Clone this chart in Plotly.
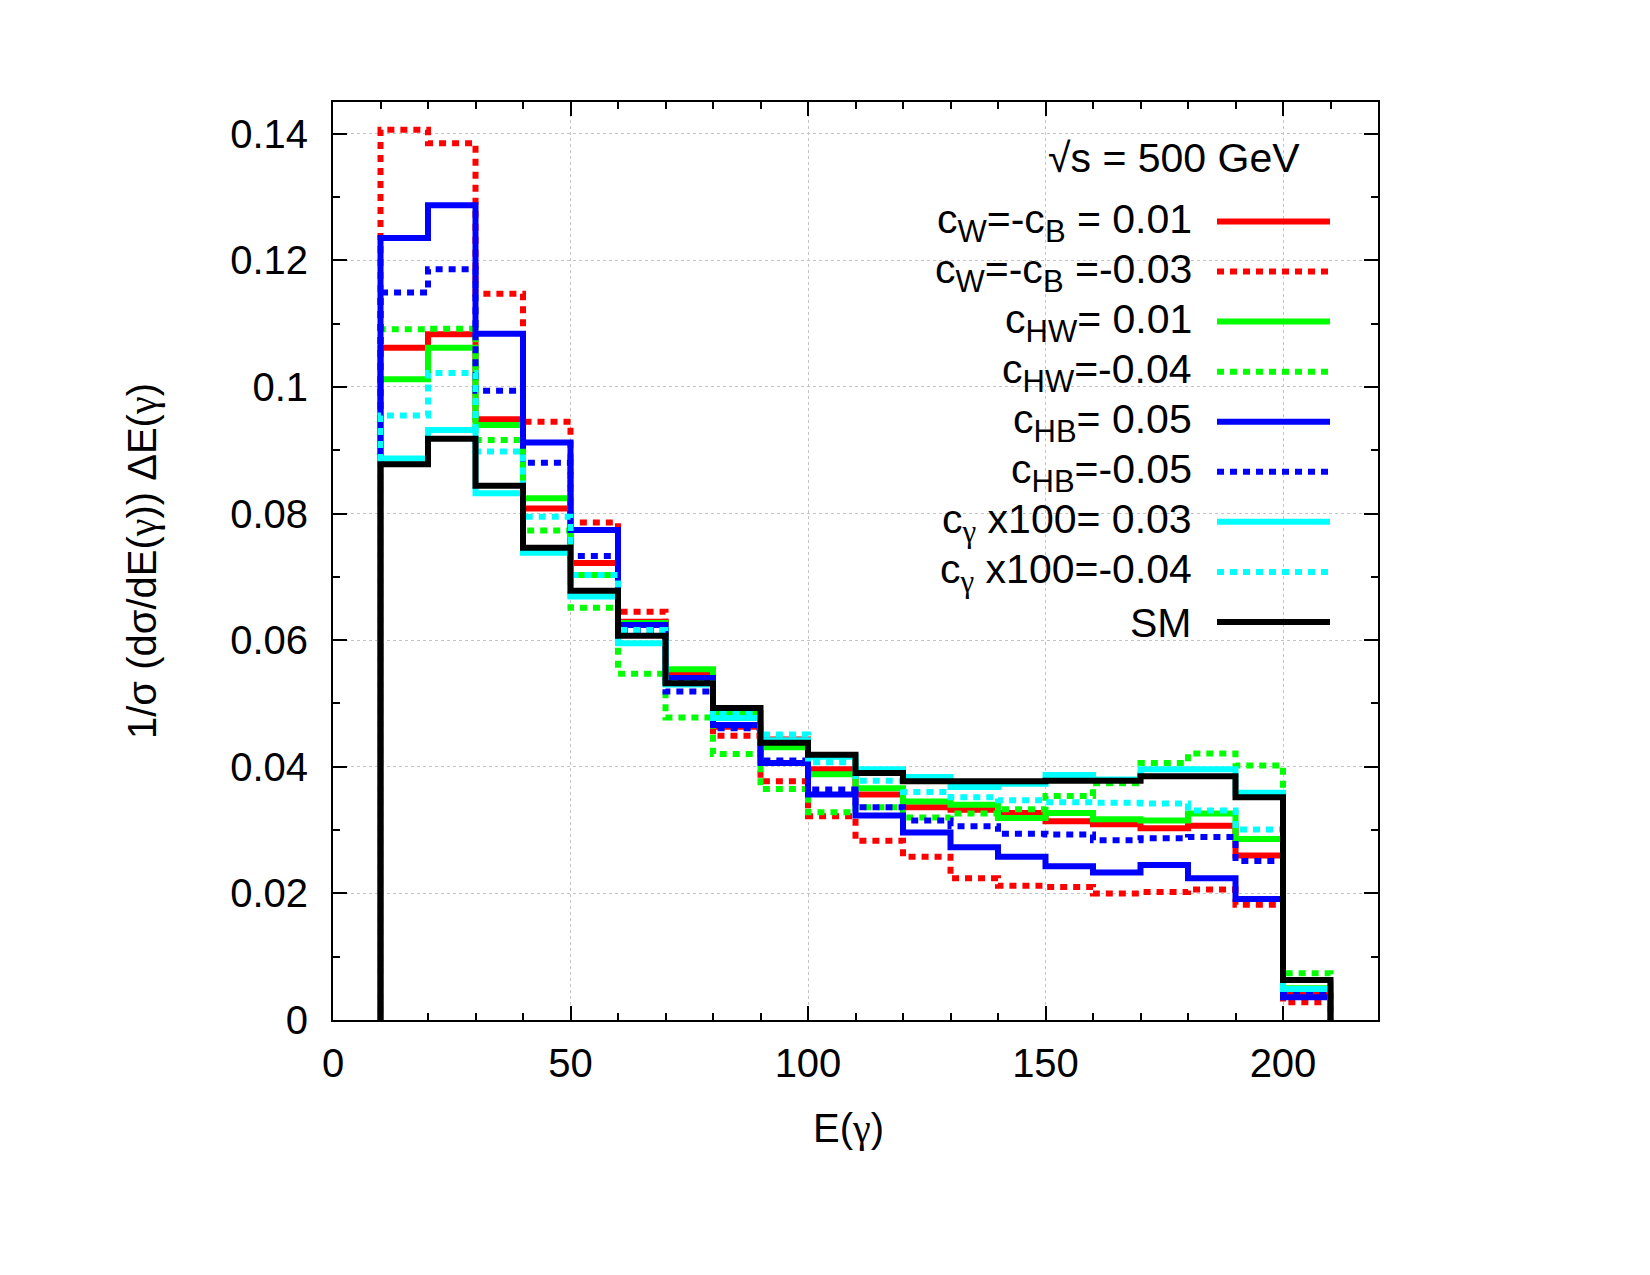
import plotly.graph_objects as go

# ---------------- data ----------------
E_edges = [10, 20, 30, 40, 50, 60, 70, 80, 90, 100, 110, 120, 130, 140, 150,
           160, 170, 180, 190, 200, 210]

cw_p01 = [0.1062, 0.1083, 0.0949, 0.0808, 0.0722, 0.0629, 0.0545, 0.0463, 0.0443, 0.0396,
          0.0356, 0.0336, 0.0332, 0.0327, 0.0314, 0.0309, 0.0303, 0.0307, 0.0260, 0.0040]
cw_m03 = [0.1406, 0.1385, 0.1147, 0.0945, 0.0786, 0.0645, 0.0552, 0.0449, 0.0377, 0.0322,
          0.0283, 0.0258, 0.0224, 0.0212, 0.0210, 0.0200, 0.0202, 0.0206, 0.0182, 0.0028]
chw_p01 = [0.1012, 0.1062, 0.0940, 0.0824, 0.0703, 0.0627, 0.0554, 0.0485, 0.0431, 0.0388,
           0.0366, 0.0345, 0.0340, 0.0319, 0.0327, 0.0317, 0.0315, 0.0326, 0.0286, 0.0050]
chw_m04 = [0.1091, 0.1092, 0.0916, 0.0773, 0.0651, 0.0547, 0.0478, 0.0420, 0.0365, 0.0328,
           0.0336, 0.0320, 0.0326, 0.0333, 0.0354, 0.0374, 0.0406, 0.0421, 0.0402, 0.0074]
chb_p05 = [0.1235, 0.1287, 0.1084, 0.0912, 0.0774, 0.0624, 0.0540, 0.0466, 0.0406, 0.0356,
           0.0323, 0.0296, 0.0273, 0.0258, 0.0243, 0.0233, 0.0245, 0.0224, 0.0191, 0.0036]
chb_m05 = [0.1149, 0.1186, 0.0994, 0.0880, 0.0733, 0.0616, 0.0519, 0.0461, 0.0410, 0.0364,
           0.0336, 0.0315, 0.0306, 0.0294, 0.0293, 0.0284, 0.0287, 0.0289, 0.0251, 0.0045]
cg_p03 = [0.0887, 0.0932, 0.0832, 0.0738, 0.0669, 0.0595, 0.0530, 0.0477, 0.0442, 0.0416,
          0.0396, 0.0384, 0.0368, 0.0373, 0.0387, 0.0380, 0.0396, 0.0396, 0.0359, 0.0049]
cg_m04 = [0.0955, 0.1022, 0.0898, 0.0795, 0.0703, 0.0616, 0.0532, 0.0485, 0.0451, 0.0407,
          0.0378, 0.0360, 0.0352, 0.0347, 0.0344, 0.0343, 0.0342, 0.0331, 0.0301, 0.0049]
sm = [0.0878, 0.0918, 0.0844, 0.0746, 0.0678, 0.0607, 0.0532, 0.0493, 0.0438, 0.0419,
      0.0390, 0.0377, 0.0377, 0.0377, 0.0378, 0.0378, 0.0385, 0.0385, 0.0352, 0.0063]

FONT = "Liberation Sans"
GFONT = "Liberation Serif"
G = '<span style="font-family:%s">γ</span>' % GFONT


def sub(s):
    return '<sub><span style="font-size:31px">%s</span></sub>' % s


series_names = ["c" + sub("W") + "=-c" + sub("B") + " = 0.01",
                "c" + sub("W") + "=-c" + sub("B") + " =-0.03",
                "c" + sub("HW") + "= 0.01",
                "c" + sub("HW") + "=-0.04",
                "c" + sub("HB") + "= 0.05",
                "c" + sub("HB") + "=-0.05",
                "c" + sub(G) + " x100= 0.03",
                "c" + sub(G) + " x100=-0.04",
                "SM"]
series_values = [cw_p01, cw_m03, chw_p01, chw_m04, chb_p05, chb_m05, cg_p03, cg_m04, sm]
series_colors = ["#ff0000", "#ff0000", "#00ff00", "#00ff00", "#0000ff", "#0000ff",
                 "#00ffff", "#00ffff", "#000000"]
series_dash = ["solid", "7px,6px", "solid", "7px,6px", "solid", "7px,6px",
               "solid", "7px,6px", "solid"]

x_ticks = [0, 50, 100, 150, 200]
y_ticks = [0, 0.02, 0.04, 0.06, 0.08, 0.1, 0.12, 0.14]
y_ticktext = ["0", "0.02", "0.04", "0.06", "0.08", "0.1", "0.12", "0.14"]

W, H = 1650, 1275
L, R, T, B = 333, 272, 102, 255

fig = go.Figure()

for name, vals, col, dash in zip(series_names, series_values, series_colors, series_dash):
    xs = [E_edges[0]] + E_edges[:-1] + [E_edges[-1], E_edges[-1]]
    ys = [0] + vals + [vals[-1], 0]
    fig.add_trace(go.Scatter(x=xs, y=ys, mode="lines", line_shape="hv",
                             line=dict(color=col, width=6, dash=dash),
                             name=name, showlegend=False, hoverinfo="skip"))

pw = W - L - R
ph = H - T - B


def px2paper_x(px):
    return (px - L) / pw


def px2paper_y(py):
    return (H - B - py) / ph


# opaque key box (hides the grid behind the key)
fig.add_shape(type="rect", xref="paper", yref="paper",
              x0=px2paper_x(893), x1=px2paper_x(1376),
              y0=px2paper_y(652), y1=px2paper_y(197),
              fillcolor="white", line=dict(width=0), layer="between")

# manual key: text right aligned, sample on the right
fig.add_annotation(x=px2paper_x(1302), y=px2paper_y(158), xref="paper", yref="paper",
                   text="√s = 500 GeV", showarrow=False, xanchor="right", yanchor="middle",
                   font=dict(family=FONT, size=41, color="black"))
for i, (name, col, dash) in enumerate(zip(series_names, series_colors, series_dash)):
    yc = 221.5 + 50.06 * i
    fig.add_annotation(x=px2paper_x(1194), y=px2paper_y(yc + 1), xref="paper", yref="paper",
                       text=name, showarrow=False, xanchor="right", yanchor="middle",
                       font=dict(family=FONT, size=41, color="black"))
    fig.add_shape(type="line", xref="paper", yref="paper",
                  x0=px2paper_x(1217), x1=px2paper_x(1330),
                  y0=px2paper_y(yc), y1=px2paper_y(yc),
                  line=dict(color=col, width=6, dash=dash), layer="above")

# axis titles
fig.add_annotation(x=px2paper_x(142), y=0.5, xref="paper", yref="paper",
                   text="1/σ (dσ/dE(" + G + ")) ΔE(" + G + ")", textangle=-90, showarrow=False,
                   xanchor="center", yanchor="middle",
                   font=dict(family=FONT, size=40, color="black"))
fig.add_annotation(x=px2paper_x(848), y=px2paper_y(1128), xref="paper", yref="paper",
                   text="E(" + G + ")", showarrow=False, xanchor="center", yanchor="middle",
                   font=dict(family=FONT, size=40, color="black"))

axis_common = dict(showline=True, linecolor="black", linewidth=2, mirror="allticks",
                   ticks="inside", ticklen=14, tickwidth=2, tickcolor="black",
                   showgrid=True, gridcolor="#c4c4c4", gridwidth=1, griddash="dot",
                   zeroline=False, tickfont=dict(family=FONT, size=40, color="black"))

fig.update_xaxes(range=[0, 220], tickvals=x_ticks, ticktext=[str(v) for v in x_ticks],
                 minor=dict(dtick=10, tick0=0, ticks="inside", ticklen=7, tickwidth=2,
                            tickcolor="black", showgrid=False),
                 ticklabelstandoff=7, **axis_common)
fig.update_yaxes(range=[0, 0.145], tickvals=y_ticks, ticktext=y_ticktext,
                 minor=dict(dtick=0.01, tick0=0, ticks="inside", ticklen=7, tickwidth=2,
                            tickcolor="black", showgrid=False),
                 ticklabelstandoff=15, **axis_common)

fig.update_layout(width=W, height=H, margin=dict(l=L, r=R, t=T, b=B),
                  paper_bgcolor="white", plot_bgcolor="white",
                  font=dict(family=FONT, size=40, color="black"), showlegend=False)

fig.write_html("out.html")
